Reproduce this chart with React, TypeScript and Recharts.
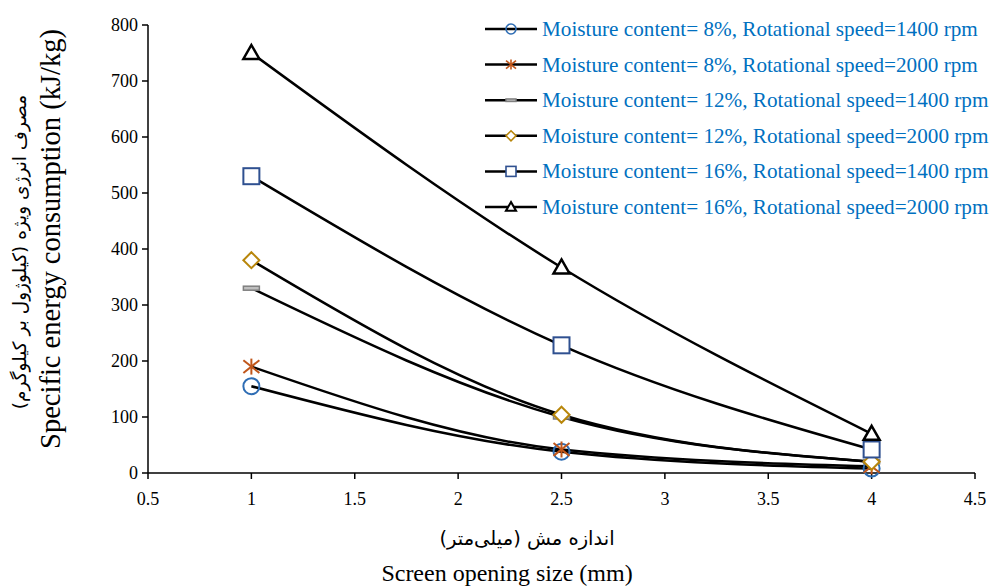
import React from 'react'
import {
  LineChart,
  Line,
  XAxis,
  YAxis
} from 'recharts'

// screen opening size (mm)
const sizes = [1, 2.5, 4]

// specific energy consumption (kJ/kg)
const m8r1400 = [155, 38, 8]
const m8r2000 = [190, 42, 12]
const m12r1400 = [330, 100, 20]
const m12r2000 = [380, 104, 20]
const m16r1400 = [530, 228, 42]
const m16r2000 = [750, 367, 70]

const xTicks = [0.5, 1, 1.5, 2, 2.5, 3, 3.5, 4, 4.5]
const yTicks = [0, 100, 200, 300, 400, 500, 600, 700, 800]

const seriesNames = [
  'Moisture content= 8%, Rotational speed=1400 rpm',
  'Moisture content= 8%, Rotational speed=2000 rpm',
  'Moisture content= 12%, Rotational speed=1400 rpm',
  'Moisture content= 12%, Rotational speed=2000 rpm',
  'Moisture content= 16%, Rotational speed=1400 rpm',
  'Moisture content= 16%, Rotational speed=2000 rpm'
]

const seriesValues = [m8r1400, m8r2000, m12r1400, m12r2000, m16r1400, m16r2000]

const data = sizes.map((x, i) => {
  const row: Record<string, number> = { x }
  seriesValues.forEach((vals, s) => {
    row['s' + s] = vals[i]
  })
  return row
})

type Shape = 'circle' | 'star' | 'dash' | 'diamond' | 'square' | 'triangle'

const markers: { shape: Shape; color: string }[] = [
  { shape: 'circle', color: '#2E6DB4' },
  { shape: 'star', color: '#C0561A' },
  { shape: 'dash', color: '#7F7F7F' },
  { shape: 'diamond', color: '#B8860B' },
  { shape: 'square', color: '#2F5090' },
  { shape: 'triangle', color: '#000000' }
]

const serif = "'Liberation Serif', 'Times New Roman', serif"
const arabic = "'DejaVu Sans', sans-serif"

function Marker({ shape, color, cx, cy, r }: {
  shape: Shape
  color: string
  cx: number
  cy: number
  r: number
}) {
  const sw = r > 6 ? 2 : 1.6
  if (shape === 'circle') {
    return <circle cx={cx} cy={cy} r={r} fill="none" stroke={color} strokeWidth={sw} />
  }
  if (shape === 'star') {
    return (
      <g stroke={color} strokeWidth={sw}>
        <line x1={cx} y1={cy - r} x2={cx} y2={cy + r} />
        <line x1={cx - r} y1={cy - r * 0.8} x2={cx + r} y2={cy + r * 0.8} />
        <line x1={cx - r} y1={cy + r * 0.8} x2={cx + r} y2={cy - r * 0.8} />
      </g>
    )
  }
  if (shape === 'dash') {
    return (
      <rect
        x={cx - r}
        y={cy - r * 0.25}
        width={r * 2}
        height={r * 0.5}
        fill="#BFBFBF"
        stroke={color}
        strokeWidth={1.5}
      />
    )
  }
  if (shape === 'diamond') {
    const pts = `${cx},${cy - r} ${cx + r},${cy} ${cx},${cy + r} ${cx - r},${cy}`
    return <polygon points={pts} fill="#fff" stroke={color} strokeWidth={sw} />
  }
  if (shape === 'square') {
    return (
      <rect
        x={cx - r}
        y={cy - r}
        width={r * 2}
        height={r * 2}
        fill="#fff"
        stroke={color}
        strokeWidth={sw}
      />
    )
  }
  const pts = `${cx},${cy - r} ${cx + r},${cy + r * 0.75} ${cx - r},${cy + r * 0.75}`
  return <polygon points={pts} fill="#fff" stroke={color} strokeWidth={sw + 0.5} />
}

function makeDot(s: number) {
  return (props: any) => {
    const { cx, cy, index } = props
    if (cx == null || cy == null) return <g key={`d${s}-${index}`} />
    return (
      <g key={`d${s}-${index}`}>
        <Marker shape={markers[s].shape} color={markers[s].color} cx={cx} cy={cy} r={8} />
      </g>
    )
  }
}

function renderXTick(props: any) {
  const { x, y, payload, index } = props
  return (
    <text
      key={`xt${index}`}
      x={x}
      y={y + 24}
      textAnchor="middle"
      fill="#000"
      style={{ fontFamily: serif, fontSize: 18 }}
    >
      {payload.value}
    </text>
  )
}

function renderYTick(props: any) {
  const { x, y, payload, index } = props
  return (
    <text
      key={`yt${index}`}
      x={x - 2}
      y={y + 6}
      textAnchor="end"
      fill="#000"
      style={{ fontFamily: serif, fontSize: 18 }}
    >
      {payload.value}
    </text>
  )
}

function ChartLegend() {
  return (
    <svg
      width={512}
      height={225}
      style={{ position: 'absolute', left: 480, top: 10, overflow: 'visible' }}
    >
      {seriesNames.map((name, i) => {
        const y = 19 + i * 35.6
        return (
          <g key={name}>
            <line x1={5} y1={y} x2={57} y2={y} stroke="#000" strokeWidth={2.5} />
            <Marker shape={markers[i].shape} color={markers[i].color} cx={31} cy={y} r={5} />
            <text
              x={62}
              y={y + 7}
              fill="#0070C0"
              style={{ fontFamily: serif, fontSize: 21.2 }}
            >
              {name}
            </text>
          </g>
        )
      })}
    </svg>
  )
}

export default function App() {
  return (
    <div
      style={{
        position: 'absolute',
        left: 0,
        top: 0,
        width: 992,
        height: 588,
        background: '#fff',
        fontFamily: serif
      }}
    >
      <LineChart
        width={992}
        height={588}
        data={data}
        margin={{ top: 25, right: 17, bottom: 85, left: 0 }}
        style={{ fontFamily: serif }}
      >
        <XAxis
          dataKey="x"
          type="number"
          domain={[0.5, 4.5]}
          ticks={xTicks}
          height={30}
          stroke="#000"
          strokeWidth={1.5}
          tickSize={6}
          tick={renderXTick}
        />
        <YAxis
          type="number"
          domain={[0, 800]}
          ticks={yTicks}
          width={148}
          stroke="#000"
          strokeWidth={1.5}
          tickSize={6}
          tick={renderYTick}
        />
        {seriesNames.map((name, s) => (
          <Line
            key={name}
            name={name}
            dataKey={'s' + s}
            type="monotone"
            stroke="#000"
            strokeWidth={2.5}
            dot={makeDot(s)}
            activeDot={false}
            isAnimationActive={false}
          />
        ))}
      </LineChart>

      <ChartLegend />

      <div style={{ position: 'absolute', left: 19, top: 252, width: 0, height: 0 }}>
        <div
          style={{
            position: 'absolute',
            transform: 'translate(-50%, -50%) rotate(-90deg)',
            whiteSpace: 'nowrap',
            fontSize: 18.5,
            fontFamily: arabic,
            direction: 'rtl'
          }}
        >
          مصرف انرژی ویژه (کیلوژول بر کیلوگرم)
        </div>
      </div>
      <div style={{ position: 'absolute', left: 51, top: 239, width: 0, height: 0 }}>
        <div
          style={{
            position: 'absolute',
            transform: 'translate(-50%, -50%) rotate(-90deg)',
            whiteSpace: 'nowrap',
            fontSize: 28.5,
            fontFamily: serif
          }}
        >
          Specific energy consumption (kJ/kg)
        </div>
      </div>
      <div
        style={{
          position: 'absolute',
          left: 0,
          width: 1054,
          top: 527,
          textAlign: 'center',
          fontSize: 19.5,
          fontFamily: arabic,
          direction: 'rtl'
        }}
      >
        اندازه مش (میلی‌متر)
      </div>
      <div
        style={{
          position: 'absolute',
          left: 0,
          width: 1014,
          top: 560,
          textAlign: 'center',
          fontSize: 24
        }}
      >
        Screen opening size (mm)
      </div>
    </div>
  )
}
